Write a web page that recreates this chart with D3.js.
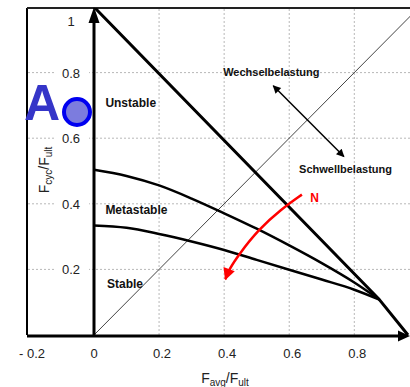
<!DOCTYPE html>
<html>
<head>
<meta charset="utf-8">
<script src="https://cdn.jsdelivr.net/npm/d3@7"></script>
<style>
  html, body { margin: 0; padding: 0; background: #fff; }
  svg { display: block; font-family: "Liberation Sans", Arial, sans-serif; }
</style>
</head>
<body>
<svg id="chart" width="410" height="387"></svg>
<script>
// Tick values and labels
const xTicks = [-0.2, 0, 0.2, 0.4, 0.6, 0.8];
const xTickLabels = ["- 0.2", "0", "0.2", "0.4", "0.6", "0.8"];
const yTicks = [0.2, 0.4, 0.6, 0.8, 1];
const yTickLabels = ["0.2", "0.4", "0.6", "0.8", "1"];
const xGrid = [0.2, 0.4, 0.6, 0.8];
const yGrid = [0.2, 0.4, 0.6, 0.8];

// Failure boundary (Favg + Fcyc ≈ 1), meeting the curves at the convergence point
const boundaryX = [0, 0.877, 0.965];
const boundaryY = [1, 0.108, 0];

// Upper limit curve: Unstable / Metastable
const upperX = [0, 0.1, 0.2, 0.3, 0.4, 0.5, 0.6, 0.7, 0.8, 0.877];
const upperY = [0.504, 0.485, 0.456, 0.416, 0.371, 0.324, 0.273, 0.219, 0.16, 0.108];

// Lower limit curve: Metastable / Stable
const lowerX = [0, 0.1, 0.2, 0.3, 0.4, 0.5, 0.6, 0.7, 0.8, 0.877];
const lowerY = [0.334, 0.327, 0.308, 0.285, 0.259, 0.229, 0.199, 0.169, 0.138, 0.108];

// Diagonal Favg = Fcyc
const diagX = [0, 1];
const diagY = [0, 1];

// Red arrow: increasing number of cycles N
const nArrowX = [0.639, 0.575, 0.505, 0.445, 0.415, 0.404];
const nArrowY = [0.428, 0.383, 0.321, 0.245, 0.2, 0.17];

// Double arrow between the two load types
const loadArrowX = [0.551, 0.768];
const loadArrowY = [0.76, 0.544];

// Region and annotation labels
const regions = [
  { text: "Unstable",   x: 0.035, y: 0.695 },
  { text: "Metastable", x: 0.035, y: 0.37 },
  { text: "Stable",     x: 0.04,  y: 0.142 }
];
const notes = [
  { text: "Wechselbelastung", x: 0.545, y: 0.79 },
  { text: "Schwellbelastung", x: 0.773, y: 0.495 }
];

const svg = d3.select("#chart");
const x = d3.scaleLinear().domain([-0.2, 0, 0.8]).range([27, 94, 354.3]);
const y = d3.scaleLinear().domain([0, 1]).range([335, 7]);
const W = 410;

const defs = svg.append("defs");
defs.append("marker").attr("id", "headBlack")
  .attr("viewBox", "0 0 10 10").attr("refX", 9).attr("refY", 5)
  .attr("markerWidth", 10).attr("markerHeight", 8).attr("markerUnits", "userSpaceOnUse")
  .attr("orient", "auto-start-reverse")
  .append("path").attr("d", "M0,0 L10,5 L0,10 z").attr("fill", "#000");
defs.append("marker").attr("id", "headRed")
  .attr("viewBox", "0 0 10 10").attr("refX", 9).attr("refY", 5)
  .attr("markerWidth", 14).attr("markerHeight", 12).attr("markerUnits", "userSpaceOnUse")
  .attr("orient", "auto")
  .append("path").attr("d", "M0,0 L10,5 L0,10 z").attr("fill", "#f00");
defs.append("clipPath").attr("id", "plotClip")
  .append("rect").attr("x", 27).attr("y", 8).attr("width", W - 27).attr("height", 330);

// Grid
const grid = svg.append("g").attr("stroke", "#b8b8b8").attr("stroke-width", 1)
  .attr("stroke-dasharray", "2,2");
grid.selectAll("line.v").data(xGrid).join("line").attr("class", "v")
  .attr("x1", d => x(d)).attr("x2", d => x(d)).attr("y1", 9).attr("y2", y(0));
grid.selectAll("line.h").data(yGrid).join("line").attr("class", "h")
  .attr("x1", 28).attr("x2", W).attr("y1", d => y(d)).attr("y2", d => y(d));

// Frame (left and top)
svg.append("line").attr("x1", 27).attr("x2", 27).attr("y1", 8).attr("y2", y(0))
  .attr("stroke", "#000").attr("stroke-width", 2);
svg.append("line").attr("x1", 27).attr("x2", W).attr("y1", 8).attr("y2", 8)
  .attr("stroke", "#222").attr("stroke-width", 2);

// Y tick labels with white backing
const yl = svg.append("g").attr("font-size", 13).attr("fill", "#222").attr("text-anchor", "middle");
yl.selectAll("rect").data(yTicks.filter(d => d < 1)).join("rect")
  .attr("x", 56).attr("y", d => y(d) - 7).attr("width", 33).attr("height", 14).attr("fill", "#fff");
yl.selectAll("text").data(yTicks).join("text")
  .attr("x", 71).attr("y", d => y(d) + (d === 1 ? 19 : 5))
  .text((d, i) => yTickLabels[i]);

// X tick labels
svg.append("g").attr("font-size", 13).attr("fill", "#222").attr("text-anchor", "middle")
  .selectAll("text").data(xTicks).join("text")
  .attr("x", d => x(d) + (d === -0.2 ? 5 : (d > 0 ? 3 : 0))).attr("y", 358)
  .text((d, i) => xTickLabels[i]);

const pts = (xs, ys) => xs.map((v, i) => [v, ys[i]]);
const straight = d3.line().x(d => x(d[0])).y(d => y(d[1]));
const smooth = d3.line().x(d => x(d[0])).y(d => y(d[1])).curve(d3.curveMonotoneX);

const plot = svg.append("g").attr("clip-path", "url(#plotClip)");

// Diagonal
plot.append("path").attr("d", straight(pts(diagX, diagY)))
  .attr("fill", "none").attr("stroke", "#444").attr("stroke-width", 1);

// Limit curves
plot.append("path").attr("d", smooth(pts(upperX, upperY)))
  .attr("fill", "none").attr("stroke", "#000").attr("stroke-width", 2.5);
plot.append("path").attr("d", smooth(pts(lowerX, lowerY)))
  .attr("fill", "none").attr("stroke", "#000").attr("stroke-width", 2.5);

// Failure boundary
plot.append("path").attr("d", straight(pts(boundaryX, boundaryY)))
  .attr("fill", "none").attr("stroke", "#000").attr("stroke-width", 3).attr("stroke-linejoin", "round");

// Axes with arrows
svg.append("line").attr("x1", x(0)).attr("x2", x(0)).attr("y1", y(0) + 1.5).attr("y2", 20)
  .attr("stroke", "#000").attr("stroke-width", 3);
svg.append("path").attr("d", `M${x(0)},7 L${x(0) - 5.5},23 L${x(0) + 5.5},23 Z`).attr("fill", "#000");
svg.append("line").attr("x1", 27).attr("x2", 400).attr("y1", y(0) + 1).attr("y2", y(0) + 1)
  .attr("stroke", "#000").attr("stroke-width", 3);
svg.append("path").attr("d", `M${W},${y(0) + 1} L${W - 12},${y(0) - 4.5} L${W - 12},${y(0) + 6.5} Z`).attr("fill", "#000");

// Load type double arrow
svg.append("path").attr("d", straight(pts(loadArrowX, loadArrowY)))
  .attr("stroke", "#000").attr("stroke-width", 1.5).attr("fill", "none")
  .attr("marker-start", "url(#headBlack)").attr("marker-end", "url(#headBlack)");

// Cycle count arrow
svg.append("path").attr("d", d3.line().x(d => x(d[0])).y(d => y(d[1])).curve(d3.curveBasis)(pts(nArrowX, nArrowY)))
  .attr("stroke", "#f00").attr("stroke-width", 2.5).attr("fill", "none")
  .attr("marker-end", "url(#headRed)");
svg.append("text").attr("x", x(0.665)).attr("y", y(0.405)).attr("fill", "#f00")
  .attr("font-size", 12).attr("font-weight", "bold").text("N");

// Region labels
svg.append("g").attr("font-size", 12).attr("font-weight", "bold").attr("fill", "#111")
  .selectAll("text").data(regions).join("text")
  .attr("x", d => x(d.x)).attr("y", d => y(d.y)).text(d => d.text);

svg.append("g").attr("font-size", 11).attr("font-weight", "bold").attr("fill", "#111")
  .attr("text-anchor", "middle")
  .selectAll("text").data(notes).join("text")
  .attr("x", d => x(d.x)).attr("y", d => y(d.y)).text(d => d.text);

// Axis titles
const xt = svg.append("text").attr("x", 225).attr("y", 383).attr("text-anchor", "middle")
  .attr("font-size", 14).attr("fill", "#222");
xt.append("tspan").text("F");
xt.append("tspan").attr("font-size", 10).attr("dy", 3).text("avg");
xt.append("tspan").attr("dy", -3).text("/F");
xt.append("tspan").attr("font-size", 10).attr("dy", 3).text("ult");

const ytl = svg.append("text").attr("transform", "translate(49,170) rotate(-90)")
  .attr("text-anchor", "middle").attr("font-size", 14).attr("fill", "#222");
ytl.append("tspan").text("F");
ytl.append("tspan").attr("font-size", 10).attr("dy", 3).text("cyc");
ytl.append("tspan").attr("dy", -3).text("/F");
ytl.append("tspan").attr("font-size", 10).attr("dy", 3).text("ult");

// Marker "A"
svg.append("text").attr("x", 24).attr("y", 120).attr("font-size", 50).attr("font-weight", "bold")
  .attr("fill", "#3535c8").text("A");
svg.append("circle").attr("cx", 77).attr("cy", 112).attr("r", 13)
  .attr("fill", "#7c7cde").attr("stroke", "#0000f0").attr("stroke-width", 4);
</script>
</body>
</html>
